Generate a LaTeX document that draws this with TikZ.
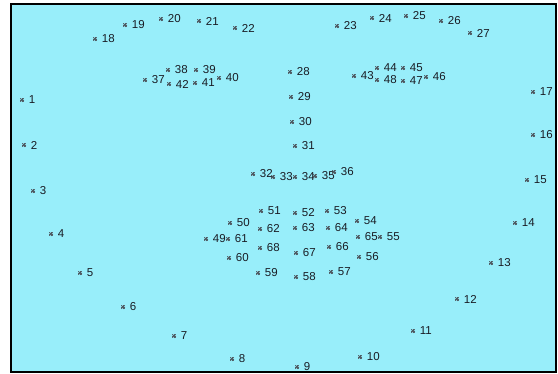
\documentclass[tikz,border=0pt]{standalone}
\usepackage{fontspec}
\setmainfont{Liberation Sans}
\usepackage{xcolor}
\usetikzlibrary{calc}
\definecolor{facebg}{RGB}{152,238,250}
\definecolor{markgray}{RGB}{80,92,100}
\definecolor{lbltext}{RGB}{25,28,36}

\begin{document}
\begin{tikzpicture}[x=1pt,y=-1pt,font=\fontsize{11.5}{13}\selectfont,
  lmark/.style={inner sep=0pt,minimum size=4pt,
    label={[lbltext,inner sep=0pt,anchor=west,xshift=4.5pt]right:#1}},
  star/.style={markgray,line width=0.75pt}]
  \useasboundingbox (0,0) rectangle (558,374);
  %% Frame
  \fill[facebg] (11,4) rectangle (556,372);
  \draw[black,line width=2pt] (11,4) rectangle (556,372);

  %% Landmarks: number / x / y (pixels from top left)
  \foreach \n/\x/\y in {1/22/100, 2/24/145, 3/33/191, 4/51/234, 5/80/273,
      6/123/307, 7/174/336, 8/232/359, 9/297/367, 10/360/357, 11/413/331,
      12/457/299, 13/491/263, 14/515/223, 15/527/180, 16/533/135, 17/533/92,
      18/95/39, 19/125/25, 20/161/19, 21/199/21, 22/235/28,
      23/337/26, 24/372/18, 25/406/16, 26/441/21, 27/470/33,
      28/290/72, 29/291/97, 30/292/122, 31/295/146,
      32/253/174, 33/273/177, 34/295/177, 35/315/176, 36/334/172,
      37/145/80, 38/168/70, 39/196/70, 40/219/78, 41/195/83, 42/169/84,
      43/354/76, 44/377/68, 45/403/68, 46/426/77, 47/403/81, 48/377/80,
      49/206/239, 50/230/223, 51/261/211, 52/295/213, 53/327/211,
      54/357/221, 55/380/237, 56/359/257, 57/331/272, 58/296/277,
      59/258/273, 60/229/258, 61/228/239, 62/260/229, 63/295/228,
      64/328/228, 65/358/237, 66/329/247, 67/296/253, 68/260/248}{
    \node[lmark=\n] (p\n) at (\x,\y) {};
    \foreach \a in {0,45,90,135}
      \draw[star] ($(p\n.center)+(\a:2.4)$) -- ($(p\n.center)-(\a:2.4)$);
  }
\end{tikzpicture}
\end{document}
